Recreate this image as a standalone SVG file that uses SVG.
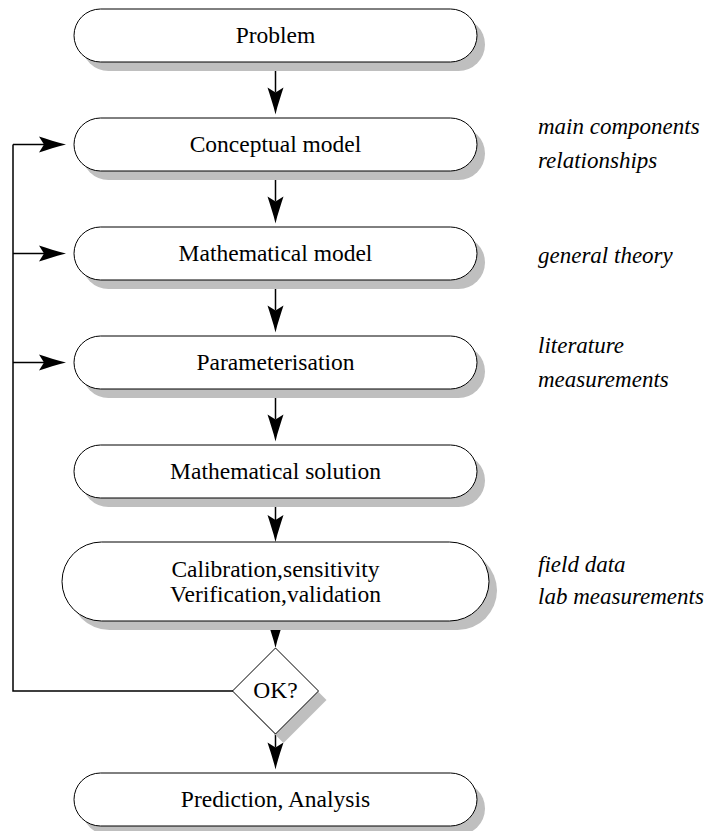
<svg xmlns="http://www.w3.org/2000/svg" width="706" height="831" viewBox="0 0 706 831">
  <style>
    .box { fill: #ffffff; stroke: #000000; stroke-width: 1; }
    .shadow { fill: #bfbfbf; stroke: none; }
    .label { font-family: "Liberation Serif", "Times New Roman", serif; font-size: 23.5px; fill: #000000; text-anchor: middle; }
    .note { font-family: "Liberation Serif", "Times New Roman", serif; font-style: italic; font-size: 23px; fill: #000000; }
    .link { fill: none; stroke: #000000; stroke-width: 1.5; }
  </style>
  <defs>
    <!-- stealth-style arrowhead; reference point sits at the back notch -->
    <marker id="head" markerUnits="userSpaceOnUse" viewBox="0 -9 28 18" markerWidth="28" markerHeight="18" refX="5" refY="0" orient="auto" overflow="visible">
      <path d="M27,0 C18,-2 8,-5.5 0,-8 L5,0 L0,8 C8,5.5 18,2 27,0 Z" fill="#000000"/>
    </marker>
  </defs>

  <!-- connectors (drawn first so node shadows sit on top) -->
  <g id="connectors">
    <line class="link" x1="275.5" y1="62" x2="275.5" y2="92.5" marker-end="url(#head)"/>
    <line class="link" x1="275.5" y1="171" x2="275.5" y2="201.5" marker-end="url(#head)"/>
    <line class="link" x1="275.5" y1="280" x2="275.5" y2="310.5" marker-end="url(#head)"/>
    <line class="link" x1="275.5" y1="389" x2="275.5" y2="419.5" marker-end="url(#head)"/>
    <line class="link" x1="275.5" y1="498" x2="275.5" y2="520" marker-end="url(#head)"/>
    <line class="link" x1="275.5" y1="621" x2="275.5" y2="626" marker-end="url(#head)"/>
    <line class="link" x1="275.5" y1="734" x2="275.5" y2="747.5" marker-end="url(#head)"/>
    <!-- feedback loop from the decision back to the modelling steps -->
    <polyline class="link" points="233,691 13,691 13,144.5"/>
    <line class="link" x1="13" y1="144.5" x2="44" y2="144.5" marker-end="url(#head)"/>
    <line class="link" x1="13" y1="253.5" x2="44" y2="253.5" marker-end="url(#head)"/>
    <line class="link" x1="13" y1="362.5" x2="44" y2="362.5" marker-end="url(#head)"/>
  </g>

  <g id="problem">
    <rect class="shadow" x="82" y="18" width="403" height="53" rx="26.5"/>
    <rect class="box" x="74" y="9" width="403" height="53" rx="26.5"/>
    <text class="label" x="275.5" y="43">Problem</text>
  </g>

  <g id="conceptual">
    <rect class="shadow" x="82" y="127" width="403" height="53" rx="26.5"/>
    <rect class="box" x="74" y="118" width="403" height="53" rx="26.5"/>
    <text class="label" x="275.5" y="152">Conceptual model</text>
  </g>

  <g id="mathematical">
    <rect class="shadow" x="82" y="236" width="403" height="53" rx="26.5"/>
    <rect class="box" x="74" y="227" width="403" height="53" rx="26.5"/>
    <text class="label" x="275.5" y="261">Mathematical model</text>
  </g>

  <g id="parameterisation">
    <rect class="shadow" x="82" y="345" width="403" height="53" rx="26.5"/>
    <rect class="box" x="74" y="336" width="403" height="53" rx="26.5"/>
    <text class="label" x="275.5" y="370">Parameterisation</text>
  </g>

  <g id="solution">
    <rect class="shadow" x="82" y="454" width="403" height="53" rx="26.5"/>
    <rect class="box" x="74" y="445" width="403" height="53" rx="26.5"/>
    <text class="label" x="275.5" y="479">Mathematical solution</text>
  </g>

  <g id="calibration">
    <rect class="shadow" x="70" y="551" width="427" height="79" rx="39.5"/>
    <rect class="box" x="62" y="542" width="427" height="79" rx="39.5"/>
    <text class="label" x="275.5" y="577">Calibration,sensitivity</text>
    <text class="label" x="275.5" y="602">Verification,validation</text>
  </g>

  <g id="decision">
    <polygon class="shadow" points="283.5,657 326.5,700 283.5,743 240.5,700"/>
    <polygon class="box" points="275.5,648 318.5,691 275.5,734 232.5,691"/>
    <text class="label" x="275.5" y="698">OK?</text>
  </g>

  <g id="prediction">
    <rect class="shadow" x="82" y="782" width="403" height="53" rx="26.5"/>
    <rect class="box" x="74" y="773" width="403" height="53" rx="26.5"/>
    <text class="label" x="275.5" y="807">Prediction, Analysis</text>
  </g>

  <!-- side notes -->
  <g id="notes">
    <text class="note" x="538" y="134">main components</text>
    <text class="note" x="538" y="168">relationships</text>
    <text class="note" x="538" y="263">general theory</text>
    <text class="note" x="538" y="353">literature</text>
    <text class="note" x="538" y="387">measurements</text>
    <text class="note" x="538" y="572">field data</text>
    <text class="note" x="538" y="604">lab measurements</text>
  </g>
</svg>
